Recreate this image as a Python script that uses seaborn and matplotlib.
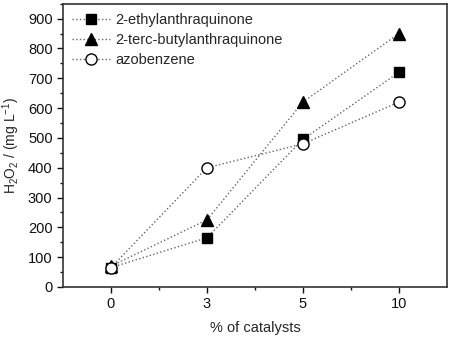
import pandas as pd
import matplotlib
matplotlib.use("Agg")
import matplotlib.pyplot as plt
import matplotlib.ticker as mticker
import seaborn as sns

# data
catalyst_pct = ["0", "3", "5", "10"]
ethyl_aq = [65, 165, 495, 720]
tbutyl_aq = [70, 225, 620, 850]
azobenzene = [65, 400, 480, 620]

sns.set_style("ticks")
plt.rcParams['font.family'] = ['Liberation Sans', 'DejaVu Sans']
plt.rcParams['mathtext.default'] = 'regular'
plt.rcParams['font.size'] = 10.5

fig = plt.figure(figsize=(4.5, 3.38), dpi=100)
ax = fig.add_axes([0.14, 0.151, 0.853, 0.838])

series = [
    ("2-ethylanthraquinone", ethyl_aq, "s", "black", 7.2),
    ("2-terc-butylanthraquinone", tbutyl_aq, "^", "black", 8.5),
    ("azobenzene", azobenzene, "o", "white", 8),
]

for name, vals, mk, face, ms in series:
    df = pd.DataFrame({"pct": catalyst_pct, "h2o2": vals})
    sns.lineplot(data=df, x="pct", y="h2o2", ax=ax, sort=False,
                 color="#666666", linestyle=":", linewidth=1,
                 marker=mk, markersize=ms, markerfacecolor=face,
                 markeredgecolor="black", markeredgewidth=1,
                 label=name)

ax.set_xlim(-0.5, 3.5)
ax.set_ylim(0, 950)
ax.yaxis.set_major_locator(mticker.MultipleLocator(100))
ax.yaxis.set_minor_locator(mticker.MultipleLocator(50))
ax.xaxis.set_minor_locator(mticker.FixedLocator([0.5, 1.5, 2.5]))

for sp in ax.spines.values():
    sp.set_visible(True)
    sp.set_color("#333333")
    sp.set_linewidth(1.2)

ax.tick_params(which="major", direction="out", length=4, width=1,
               labelsize=10.5, top=False, right=False, colors="#111111")
ax.tick_params(which="minor", direction="out", length=2.5, width=1,
               top=False, right=False, colors="#111111")

ax.set_xlabel("% of catalysts", fontsize=10.5, labelpad=7)
ax.set_ylabel("H$_2$O$_2$ / (mg L$^{-1}$)", fontsize=10, labelpad=4)

ax.legend(loc="upper left", frameon=False, fontsize=10.5, handlelength=2.6,
          handletextpad=0.35, borderaxespad=0.25, labelspacing=0.4)

fig.savefig("out.png", dpi=100)
